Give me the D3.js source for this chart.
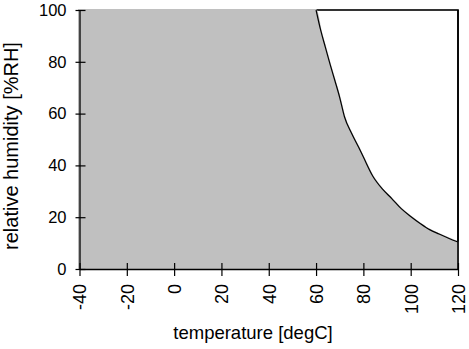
<!DOCTYPE html>
<html>
<head>
<meta charset="utf-8">
<script src="https://cdn.jsdelivr.net/npm/d3@7"></script>
<style>
  body { margin: 0; background: #fff; }
  svg { display: block; font-family: "Liberation Sans", Arial, sans-serif; }
</style>
</head>
<body>
<svg id="chart"></svg>
<script>
// data
var temps    = [-40, 60, 62, 64, 66, 68, 70, 72, 75, 78, 80, 84, 88, 92, 96, 100, 104, 108, 112, 116, 120];
var humidity = [100, 100, 92, 85.4, 78.8, 72.6, 66.2, 58.8, 52.4, 47, 43.2, 35.8, 30.9, 27.2, 23.3, 20.3, 17.6, 15.2, 13.5, 11.9, 10.4];
var xTicks = [-40, -20, 0, 20, 40, 60, 80, 100, 120];
var yTicks = [0, 20, 40, 60, 80, 100];
var xTitle = 'temperature [degC]';
var yTitle = 'relative humidity [%RH]';

var W = 469, H = 349;
var margin = { top: 10, right: 11, bottom: 80, left: 79.5 },
    width  = W - margin.left - margin.right,
    height = H - margin.top - margin.bottom;

var data = temps.map(function(t, i) { return { t: t, rh: humidity[i] }; });

var svg = d3.select('#chart').attr('width', W).attr('height', H);
var g = svg.append('g').attr('transform', 'translate(' + margin.left + ',' + margin.top + ')');

var x = d3.scaleLinear().domain([-40, 120]).range([0, width]);
var y = d3.scaleLinear().domain([0, 100]).range([height, 0]);

// frame
g.append('rect')
  .attr('width', width).attr('height', height)
  .attr('fill', '#fff').attr('stroke', '#000').attr('stroke-width', 1.6);

// shaded region
var area = d3.area()
  .curve(d3.curveMonotoneX)
  .x(function(d) { return x(d.t); })
  .y0(y(0))
  .y1(function(d) { return y(d.rh); });

g.append('path')
  .datum(data)
  .attr('d', area)
  .attr('fill', '#c0c0c0')
  .attr('stroke', '#c0c0c0')
  .attr('stroke-width', 1.8);

// boundary curve (only where it drops below 100)
var line = d3.line()
  .curve(d3.curveMonotoneX)
  .x(function(d) { return x(d.t); })
  .y(function(d) { return y(d.rh); });

g.append('path')
  .datum(data.filter(function(d) { return d.t >= 60; }))
  .attr('d', line)
  .attr('fill', 'none')
  .attr('stroke', '#000')
  .attr('stroke-width', 1.2);

// right border back on top
g.append('line')
  .attr('x1', width).attr('x2', width)
  .attr('y1', 0).attr('y2', height)
  .attr('stroke', '#000').attr('stroke-width', 1.6);

// x axis
var xAxis = g.append('g')
  .attr('transform', 'translate(0,' + height + ')')
  .call(d3.axisBottom(x).tickValues(xTicks).tickSize(7).tickSizeOuter(0).tickFormat(function(d) { return String(d); }));
xAxis.select('.domain').attr('stroke-width', 1.3);
xAxis.selectAll('.tick line').attr('y1', -6).attr('y2', 7).attr('stroke-width', 1.2);
xAxis.selectAll('.tick text')
  .attr('font-size', '18px')
  .attr('font-family', '"Liberation Sans", Arial, sans-serif')
  .attr('fill', '#000')
  .attr('transform', 'rotate(-90)')
  .attr('x', -15).attr('y', 0).attr('dy', '0.35em')
  .style('text-anchor', 'end');

// y axis
var yAxis = g.append('g')
  .call(d3.axisLeft(y).tickValues(yTicks).tickSize(4).tickSizeOuter(0).tickFormat(function(d) { return String(d); }));
yAxis.select('.domain').attr('stroke-width', 1.3);
yAxis.selectAll('.tick line').attr('x1', 6).attr('x2', -4).attr('stroke-width', 1.2);
yAxis.selectAll('.tick text')
  .attr('font-size', '16.5px')
  .attr('font-family', '"Liberation Sans", Arial, sans-serif')
  .attr('fill', '#000')
  .attr('x', -13);

// titles
svg.append('text')
  .attr('x', 253).attr('y', 339)
  .attr('font-size', '18.5px')
  .style('text-anchor', 'middle')
  .text(xTitle);

svg.append('text')
  .attr('transform', 'translate(18,146) rotate(-90)')
  .attr('font-size', '20px')
  .style('text-anchor', 'middle')
  .text(yTitle);
</script>
</body>
</html>
